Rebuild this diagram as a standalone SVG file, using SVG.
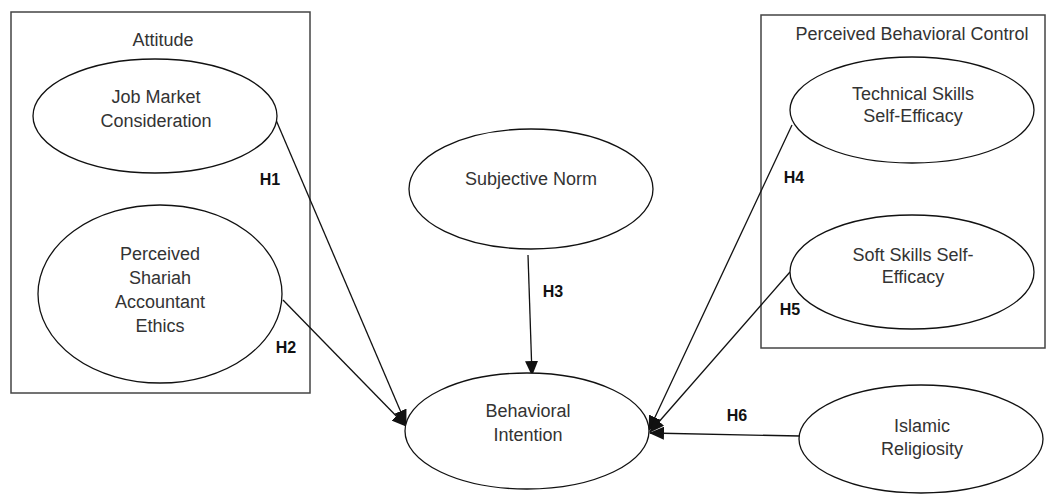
<svg xmlns="http://www.w3.org/2000/svg" width="1047" height="495" viewBox="0 0 1047 495">
<style>
.box{fill:none;stroke:#444;stroke-width:1.5}
.node{fill:#fff;stroke:#111;stroke-width:1.3}
.t{font-family:"Liberation Sans",Arial,sans-serif;font-size:18px;fill:#333;text-anchor:middle}
.h{font-family:"Liberation Sans",Arial,sans-serif;font-size:16px;font-weight:bold;fill:#111;text-anchor:middle}
.c{stroke:#111;stroke-width:1.3;fill:none;marker-end:url(#ah)}
</style>
<defs>
<marker id="ah" markerUnits="userSpaceOnUse" markerWidth="15" markerHeight="13" refX="14" refY="6.5" orient="auto">
<path d="M0,0 L15,6.5 L0,13 Z" fill="#111"/>
</marker>
</defs>
<rect class="box" x="11" y="12" width="299" height="381"/>
<text class="t" x="163" y="46">Attitude</text>
<rect class="box" x="761" y="15" width="284" height="333"/>
<text class="t" x="912" y="40">Perceived Behavioral Control</text>
<g id="connectors">
<line class="c" x1="276" y1="120" x2="406" y2="424"/>
<line class="c" x1="283" y1="300" x2="406" y2="426"/>
<line class="c" x1="528" y1="255" x2="532" y2="375"/>
<line class="c" x1="792" y1="125" x2="649" y2="430"/>
<line class="c" x1="790" y1="272" x2="650" y2="432"/>
<line class="c" x1="800" y1="436" x2="650" y2="433"/>
<text class="h" x="270" y="185">H1</text>
<text class="h" x="286" y="353">H2</text>
<text class="h" x="553" y="297">H3</text>
<text class="h" x="794" y="183">H4</text>
<text class="h" x="790" y="315">H5</text>
<text class="h" x="737" y="421">H6</text>
</g>
<g id="job-market">
<ellipse class="node" cx="155" cy="116" rx="122" ry="57"/>
<text class="t" x="156" y="103">Job Market</text>
<text class="t" x="156" y="127">Consideration</text>
</g>
<g id="shariah-ethics">
<ellipse class="node" cx="160" cy="294" rx="122" ry="89"/>
<text class="t" x="160" y="260">Perceived</text>
<text class="t" x="160" y="284">Shariah</text>
<text class="t" x="160" y="308">Accountant</text>
<text class="t" x="160" y="332">Ethics</text>
</g>
<g id="subjective-norm">
<ellipse class="node" cx="531" cy="189" rx="122" ry="60"/>
<text class="t" x="531" y="185">Subjective Norm</text>
</g>
<g id="behavioral-intention">
<ellipse class="node" cx="527" cy="431" rx="122" ry="58"/>
<text class="t" x="528" y="417">Behavioral</text>
<text class="t" x="528" y="441">Intention</text>
</g>
<g id="technical-skills">
<ellipse class="node" cx="912" cy="110" rx="122" ry="53"/>
<text class="t" x="913" y="100">Technical Skills</text>
<text class="t" x="913" y="122">Self-Efficacy</text>
</g>
<g id="soft-skills">
<ellipse class="node" cx="912" cy="272" rx="122" ry="57"/>
<text class="t" x="913" y="261">Soft Skills Self-</text>
<text class="t" x="913" y="283">Efficacy</text>
</g>
<g id="islamic-religiosity">
<ellipse class="node" cx="921" cy="439" rx="122" ry="54"/>
<text class="t" x="922" y="432">Islamic</text>
<text class="t" x="922" y="455">Religiosity</text>
</g>
</svg>
